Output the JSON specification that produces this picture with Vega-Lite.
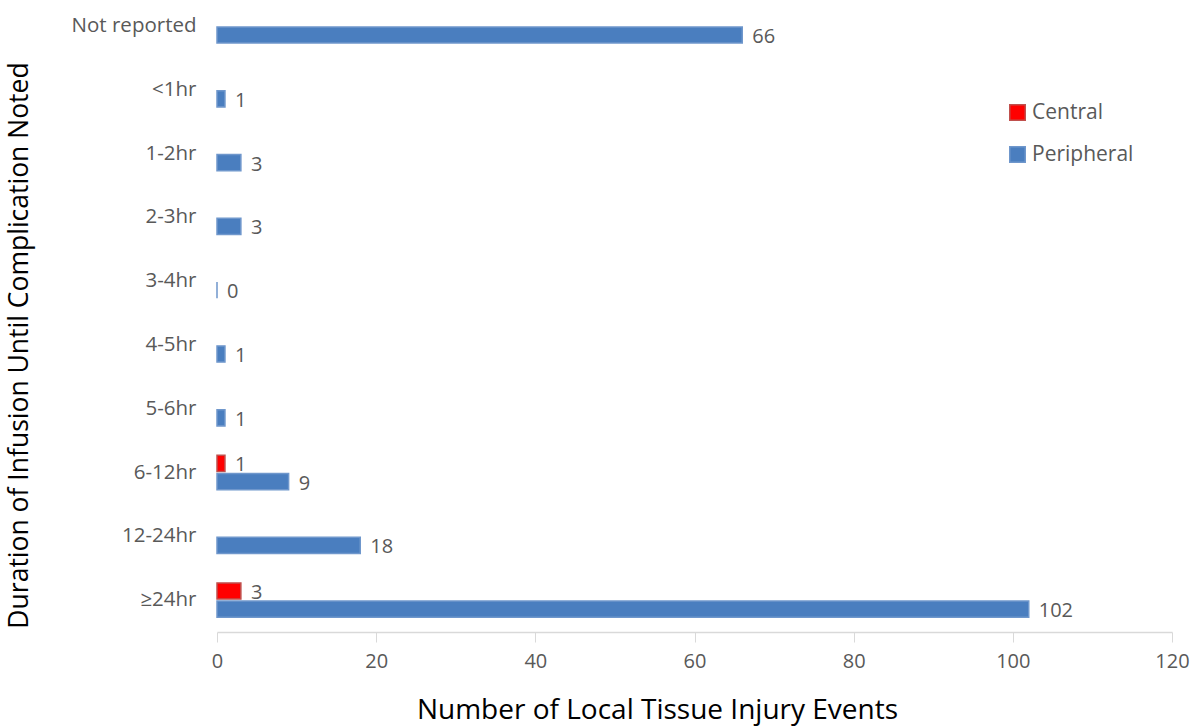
{
  "$schema": "https://vega.github.io/schema/vega-lite/v6.json",
  "autosize": {"type": "none"},
  "width": 955,
  "height": 638,
  "padding": {"left": 217, "top": -6, "right": 27, "bottom": 95},
  "background": "white",
  "config": {
    "font": "Open Sans",
    "view": {"stroke": null}
  },
  "data": {
    "values": [
      {"duration": "Not reported", "type": "Peripheral", "count": 66},
      {"duration": "<1hr", "type": "Peripheral", "count": 1},
      {"duration": "1-2hr", "type": "Peripheral", "count": 3},
      {"duration": "2-3hr", "type": "Peripheral", "count": 3},
      {"duration": "3-4hr", "type": "Peripheral", "count": 0},
      {"duration": "4-5hr", "type": "Peripheral", "count": 1},
      {"duration": "5-6hr", "type": "Peripheral", "count": 1},
      {"duration": "6-12hr", "type": "Central", "count": 1},
      {"duration": "6-12hr", "type": "Peripheral", "count": 9},
      {"duration": "12-24hr", "type": "Peripheral", "count": 18},
      {"duration": "≥24hr", "type": "Central", "count": 3},
      {"duration": "≥24hr", "type": "Peripheral", "count": 102}
    ]
  },
  "encoding": {
    "y": {
      "field": "duration",
      "type": "nominal",
      "sort": null,
      "scale": {
        "domain": ["Not reported", "<1hr", "1-2hr", "2-3hr", "3-4hr", "4-5hr", "5-6hr", "6-12hr", "12-24hr", "≥24hr"],
        "paddingInner": 0,
        "paddingOuter": 0
      },
      "axis": {
        "title": "Duration of Infusion Until Complication Noted",
        "titleFontSize": 26.5,
        "titleFontWeight": "normal",
        "titleColor": "#000000",
        "titleX": -190,
        "titleY": 351,
        "titleAlign": "center",
        "titleBaseline": "alphabetic",
        "labelFontSize": 20.5,
        "labelColor": "#595959",
        "labelPadding": 21,
        "labelBaseline": "middle",
        "ticks": false,
        "domain": false,
        "grid": false
      }
    },
    "yOffset": {
      "field": "type",
      "type": "nominal",
      "scale": {"domain": ["Central", "Peripheral"], "paddingInner": 0.11, "paddingOuter": 0.81}
    },
    "x": {
      "field": "count",
      "type": "quantitative",
      "scale": {"domain": [0, 120], "nice": false},
      "axis": {
        "title": "Number of Local Tissue Injury Events",
        "titleFontSize": 28,
        "titleFontWeight": "normal",
        "titleColor": "#000000",
        "titleX": 440,
        "titleY": 86,
        "titleAlign": "center",
        "titleBaseline": "alphabetic",
        "values": [0, 20, 40, 60, 80, 100, 120],
        "labelFontSize": 20,
        "labelColor": "#595959",
        "labelPadding": 9,
        "labelFlush": false,
        "tickSize": 10,
        "tickColor": "#d9d9d9",
        "domainColor": "#d9d9d9",
        "domainWidth": 1.5,
        "grid": false
      }
    }
  },
  "layer": [
    {
      "mark": {"type": "bar", "strokeWidth": 1.5},
      "encoding": {
        "color": {
          "field": "type",
          "type": "nominal",
          "scale": {"domain": ["Central", "Peripheral"], "range": ["#ff0000", "#4a7ebf"]},
          "legend": {
            "title": null,
            "orient": "none",
            "legendX": 790,
            "legendY": 108,
            "symbolType": "square",
            "symbolSize": 240,
            "symbolStrokeWidth": 1.5,
            "labelFontSize": 21,
            "labelColor": "#595959",
            "rowPadding": 19,
            "labelOffset": 4
          }
        },
        "stroke": {
          "field": "type",
          "type": "nominal",
          "scale": {"domain": ["Central", "Peripheral"], "range": ["#c0504d", "#6f97cc"]},
          "legend": null
        }
      }
    },
    {
      "mark": {"type": "text", "align": "left", "baseline": "middle", "dx": 10, "dy": 2, "fontSize": 20, "color": "#595959"},
      "encoding": {
        "text": {"field": "count", "type": "quantitative"}
      }
    }
  ]
}
